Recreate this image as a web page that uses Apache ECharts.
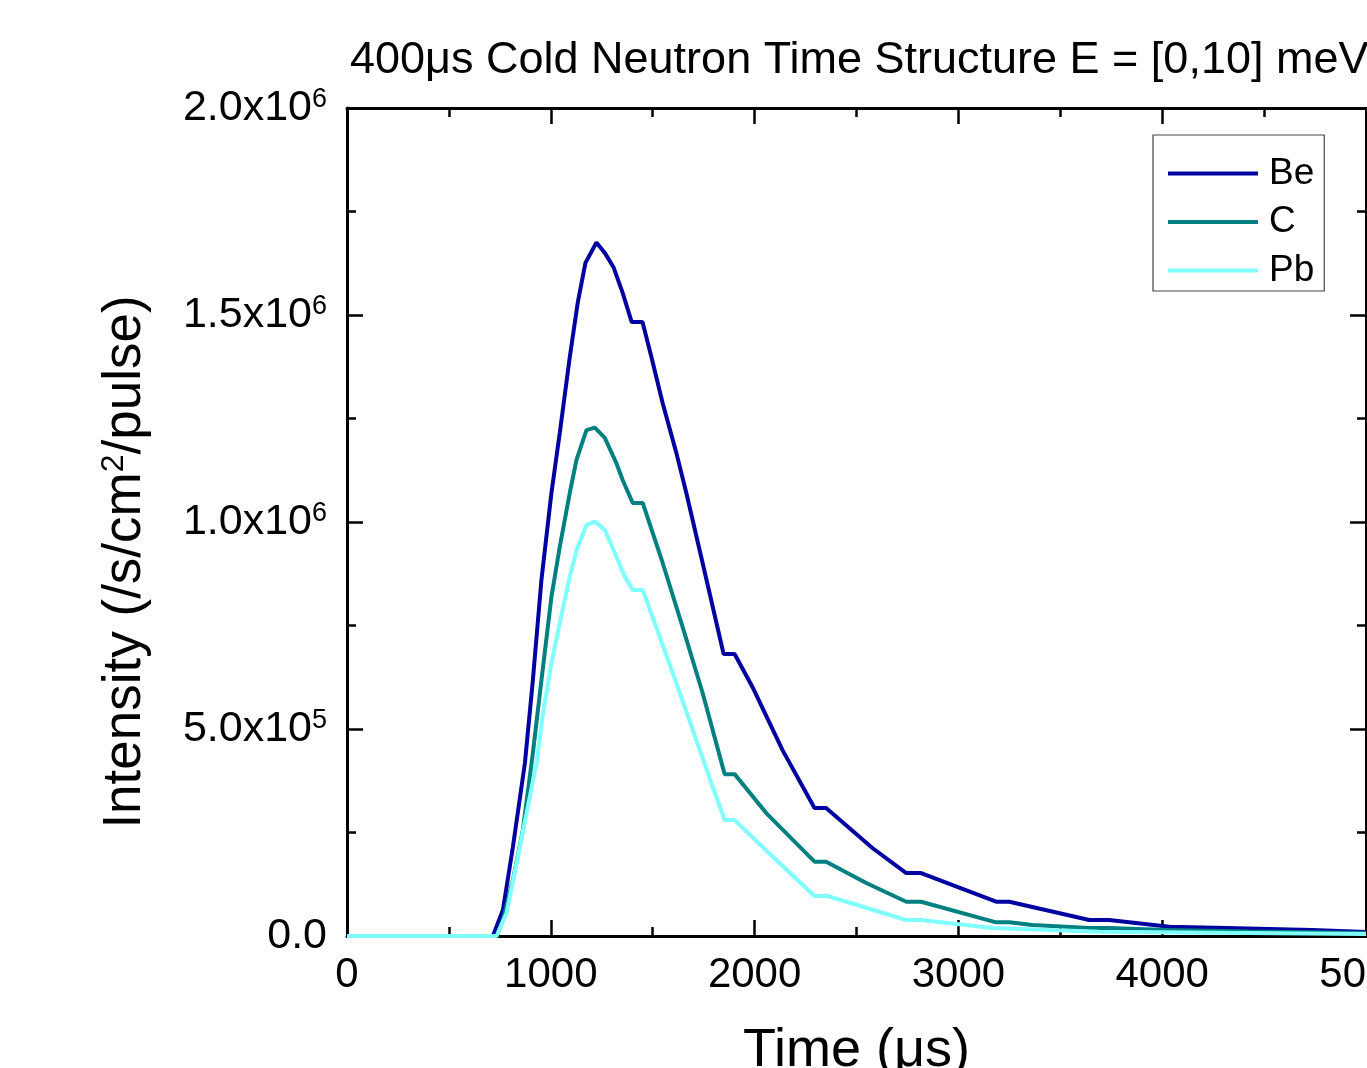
<!DOCTYPE html>
<html>
<head>
<meta charset="utf-8">
<script src="https://cdn.jsdelivr.net/npm/echarts@6/dist/echarts.min.js"></script>
<style>
html,body{margin:0;padding:0;background:#fff;}
#chart{width:1367px;height:1068px;}
</style>
</head>
<body>
<div id="chart"></div>
<script>
const seriesNames = ['Be', 'C', 'Pb'];
const seriesColors = ['#0000A0', '#008080', '#80FFFF'];

const beTime = [0, 716, 765, 814, 873, 912, 954, 1003, 1044, 1093, 1132, 1170, 1224, 1265, 1309, 1353, 1397, 1450, 1494, 1549, 1616, 1665, 1745, 1848, 1902, 1990, 2137, 2294, 2351, 2578, 2744, 2817, 3185, 3250, 3642, 3740, 4034, 4314, 4735, 5000];
const beIntensity = [0, 0, 62800, 215000, 418000, 618000, 860000, 1070000, 1215000, 1398000, 1529000, 1626000, 1675000, 1650000, 1614000, 1553000, 1483000, 1483000, 1398000, 1287000, 1167000, 1070000, 901000, 681000, 681000, 601000, 449000, 309000, 309000, 212600, 152000, 152000, 82800, 82800, 38600, 38600, 22500, 19300, 14500, 9700];

const cTime = [0, 735, 765, 814, 863, 912, 954, 1003, 1044, 1093, 1126, 1175, 1216, 1265, 1322, 1353, 1402, 1451, 1549, 1647, 1745, 1853, 1902, 2057, 2294, 2351, 2548, 2744, 2817, 3185, 3250, 3363, 3642, 3740, 4020, 4426, 5000];
const cIntensity = [0, 0, 38600, 135000, 256000, 442000, 618000, 819000, 940000, 1070000, 1150000, 1222000, 1228000, 1203000, 1142000, 1101000, 1046000, 1046000, 901000, 746000, 587000, 391000, 391000, 297000, 179500, 179500, 128000, 82800, 82800, 33000, 33000, 26500, 19300, 19300, 14500, 10900, 7200];

const pbTime = [0, 734, 783, 832, 881, 930, 962, 1003, 1044, 1093, 1126, 1175, 1216, 1265, 1314, 1363, 1402, 1451, 1534, 1616, 1714, 1794, 1853, 1902, 2106, 2294, 2358, 2744, 2817, 3167, 3691, 5000];
const pbIntensity = [0, 0, 55600, 176000, 297000, 418000, 539000, 659000, 756000, 868000, 932000, 993000, 1001000, 981000, 925000, 868000, 836000, 836000, 723000, 611000, 473000, 361000, 280000, 280000, 183600, 96600, 96600, 38600, 38600, 19300, 10400, 4800];

const xTicks = [0, 1000, 2000, 3000, 4000, 5000];
const yTicks = [0, 500000, 1000000, 1500000, 2000000];

const titleText = '400\u03bcs Cold Neutron Time Structure E = [0,10] meV';
const xName = 'Time (\u03bcs)';
const yNameRich = 'Intensity (/s/cm{sup|2}/pulse)';

const FONT = 'Liberation Sans, Arial, sans-serif';

function pairs(xs, ys) { return xs.map((x, i) => [x, ys[i]]); }
const allData = [pairs(beTime, beIntensity), pairs(cTime, cIntensity), pairs(pbTime, pbIntensity)];

function yFmt(v) {
  if (v === 0) return '{base|0.0}';
  const e = Math.floor(Math.log10(v) + 1e-9);
  const m = v / Math.pow(10, e);
  return '{base|' + m.toFixed(1) + 'x10}{sup|' + e + '}';
}

const chart = echarts.init(document.getElementById('chart'), null, {renderer: 'canvas'});
const tickStyle = {show: true, inside: true, length: 16, lineStyle: {color: '#000', width: 2.5}};
const minorStyle = {show: true, splitNumber: 2, length: 9, lineStyle: {color: '#000', width: 2.5}};
const option = {
  backgroundColor: '#fff',
  animation: false,
  title: {
    text: titleText, left: 345, top: 33,
    textStyle: {fontFamily: FONT, fontSize: 45, fontWeight: 'normal', color: '#000'}
  },
  legend: {
    data: seriesNames, orient: 'vertical', left: 1153, top: 135,
    padding: [20, 10, 2, 15], itemGap: 11.5, itemWidth: 90, itemHeight: 12,
    borderColor: '#444', borderWidth: 1.2, backgroundColor: '#fff',
    textStyle: {fontFamily: FONT, fontSize: 37, color: '#000', lineHeight: 37, padding: [0, 0, 0, 6]},
    icon: 'path://M0,0 L90,0 L90,4 L0,4 Z'
  },
  grid: {left: 347, top: 108, right: 1, bottom: 132, containLabel: false, outerBoundsMode: 'none'},
  xAxis: [{
    type: 'value', min: 0, max: 5000, interval: 1000,
    name: xName, nameLocation: 'middle', nameGap: 88,
    nameTextStyle: {fontFamily: FONT, fontSize: 54, color: '#000', verticalAlign: 'top'},
    axisLine: {show: true, onZero: false, lineStyle: {color: '#000', width: 3}},
    axisTick: tickStyle, minorTick: minorStyle,
    splitLine: {show: false},
    axisLabel: {fontFamily: FONT, fontSize: 42, color: '#000', margin: 18,
      formatter: v => xTicks.includes(v) ? String(v) : ''}
  }, {
    type: 'value', min: 0, max: 5000, interval: 1000, position: 'top',
    axisLine: {show: true, onZero: false, lineStyle: {color: '#000', width: 3}},
    axisTick: tickStyle, minorTick: minorStyle,
    splitLine: {show: false}, axisLabel: {show: false}
  }],
  yAxis: [{
    type: 'value', min: 0, max: 2000000, interval: 500000,
    axisLine: {show: true, onZero: false, lineStyle: {color: '#000', width: 3}},
    axisTick: tickStyle, minorTick: minorStyle,
    splitLine: {show: false},
    axisLabel: {
      margin: 20,
      formatter: v => yTicks.includes(v) ? yFmt(v) : '',
      color: '#000',
      rich: {
        base: {fontFamily: FONT, fontSize: 43, color: '#000', lineHeight: 44},
        sup: {fontFamily: FONT, fontSize: 27, color: '#000', verticalAlign: 'top', lineHeight: 16}
      }
    }
  }, {
    type: 'value', min: 0, max: 2000000, interval: 500000, position: 'right',
    axisLine: {show: true, onZero: false, lineStyle: {color: '#000', width: 2}},
    axisTick: tickStyle, minorTick: minorStyle,
    splitLine: {show: false}, axisLabel: {show: false}
  }],
  graphic: [{
    type: 'text', x: 125, y: 562, rotation: Math.PI / 2,
    style: {
      text: yNameRich,
      align: 'center', verticalAlign: 'middle',
      font: '53px ' + FONT, fill: '#000',
      rich: {sup: {fontSize: 32, fontFamily: FONT, fill: '#000', verticalAlign: 'top', lineHeight: 16}}
    }
  }],
  series: seriesNames.map((n, i) => ({
    name: n, type: 'line', data: allData[i], xAxisIndex: 0, yAxisIndex: 0,
    showSymbol: false, symbol: 'none',
    lineStyle: {color: seriesColors[i], width: 4},
    itemStyle: {color: seriesColors[i]}
  }))
};
chart.setOption(option);
</script>
</body>
</html>
